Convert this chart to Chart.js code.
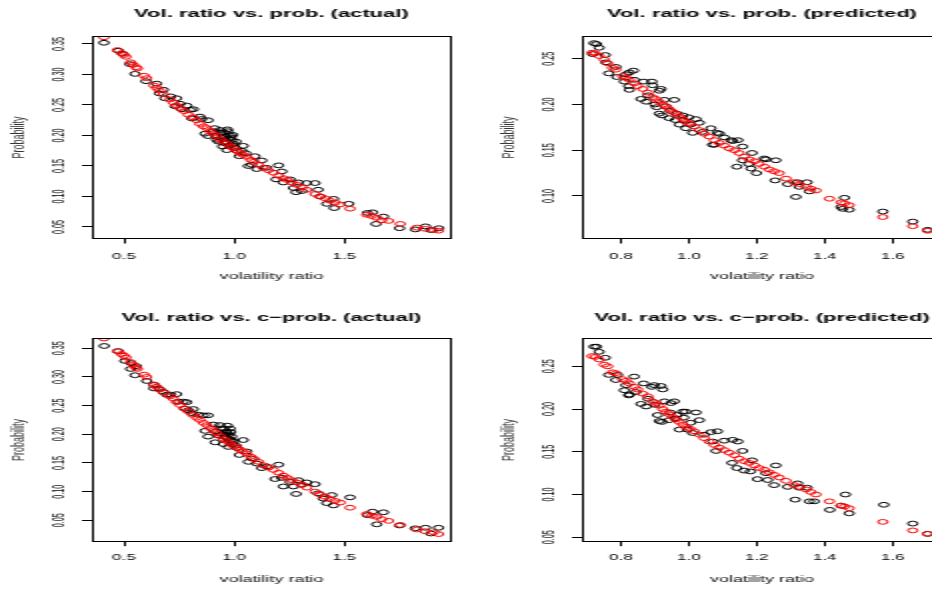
<!DOCTYPE html>
<html>
<head>
<meta charset="utf-8">
<script src="https://cdn.jsdelivr.net/npm/chart.js@4.4.1/dist/chart.umd.min.js"></script>
<style>
  html, body { margin: 0; padding: 0; background: #fff; }
  body { width: 932px; height: 589px; overflow: hidden; position: relative; }
  /* the original figure is stretched horizontally, so each panel is drawn narrow and scaled */
  canvas { position: absolute; transform: scaleX(2); transform-origin: 0 0; }
</style>
</head>
<body>
<canvas id="probActual" width="233" height="295" style="left:0;top:0"></canvas>
<canvas id="probPred" width="250" height="295" style="left:466px;top:0"></canvas>
<canvas id="cprobActual" width="233" height="294" style="left:0;top:295px"></canvas>
<canvas id="cprobPred" width="250" height="294" style="left:466px;top:295px"></canvas>
<script>
// tick labels
var actualXTicks = [0.5, 1.0, 1.5];
var predXTicks = [0.8, 1.0, 1.2, 1.4, 1.6];
var probActualYTicks = [0.05, 0.10, 0.15, 0.20, 0.25, 0.30, 0.35];
var probPredYTicks = [0.10, 0.15, 0.20, 0.25];
var cprobActualYTicks = [0.05, 0.10, 0.15, 0.20, 0.25, 0.30, 0.35];
var cprobPredYTicks = [0.05, 0.10, 0.15, 0.20, 0.25];

// left column: actual volatility ratios
var actualBlackX = [0.409, 0.474, 0.494, 0.527, 0.550, 0.600, 0.648, 0.661, 0.679, 0.686, 0.712, 0.739, 0.732, 0.755, 0.762, 0.785, 0.800, 0.815, 0.808, 0.845, 0.853, 0.882, 0.868, 0.882, 0.912, 0.921, 0.936, 0.944, 0.948, 0.955, 0.967, 0.982, 0.989, 0.997, 1.005, 1.015, 1.024, 1.042, 1.053, 1.065, 1.080, 1.095, 1.103, 1.126, 1.148, 1.202, 1.191, 1.217, 1.224, 1.255, 1.270, 1.282, 1.292, 1.308, 1.330, 1.368, 1.382, 1.391, 1.421, 1.452, 1.455, 1.521, 1.606, 1.629, 1.645, 1.679, 1.752, 1.824, 1.870, 1.894, 1.930, 0.906, 0.918, 0.929, 0.939, 0.959, 0.971, 0.979, 0.994, 1.009, 1.035, 0.955, 0.965, 0.975, 0.985, 0.960, 0.990, 0.945, 0.970];
var probActualBlack = [0.352, 0.339, 0.334, 0.317, 0.301, 0.289, 0.285, 0.269, 0.275, 0.261, 0.264, 0.261, 0.248, 0.252, 0.243, 0.249, 0.242, 0.243, 0.228, 0.231, 0.227, 0.225, 0.203, 0.199, 0.212, 0.193, 0.209, 0.205, 0.182, 0.199, 0.176, 0.200, 0.193, 0.187, 0.180, 0.175, 0.166, 0.183, 0.171, 0.150, 0.152, 0.166, 0.145, 0.159, 0.147, 0.151, 0.128, 0.141, 0.123, 0.128, 0.114, 0.107, 0.123, 0.109, 0.122, 0.122, 0.111, 0.100, 0.088, 0.096, 0.081, 0.088, 0.073, 0.074, 0.055, 0.067, 0.048, 0.046, 0.051, 0.045, 0.048, 0.207, 0.199, 0.190, 0.204, 0.187, 0.207, 0.183, 0.201, 0.190, 0.175, 0.205, 0.198, 0.195, 0.197, 0.190, 0.185, 0.196, 0.210];

var actualRedX = [0.409, 0.470, 0.489, 0.500, 0.509, 0.530, 0.542, 0.555, 0.561, 0.592, 0.603, 0.636, 0.648, 0.661, 0.679, 0.709, 0.724, 0.739, 0.755, 0.773, 0.792, 0.812, 0.830, 0.845, 0.861, 0.876, 0.891, 0.906, 0.921, 0.936, 0.952, 0.967, 0.982, 0.997, 1.012, 1.027, 1.042, 1.058, 1.076, 1.091, 1.111, 1.133, 1.156, 1.179, 1.202, 1.224, 1.242, 1.262, 1.285, 1.308, 1.330, 1.368, 1.391, 1.414, 1.436, 1.459, 1.482, 1.527, 1.603, 1.626, 1.648, 1.671, 1.702, 1.755, 1.830, 1.868, 1.906, 1.929];
var probActualRed = [0.361, 0.340, 0.335, 0.332, 0.329, 0.320, 0.316, 0.312, 0.310, 0.298, 0.294, 0.282, 0.278, 0.274, 0.268, 0.259, 0.254, 0.249, 0.245, 0.240, 0.234, 0.230, 0.225, 0.219, 0.215, 0.212, 0.207, 0.203, 0.199, 0.194, 0.190, 0.187, 0.182, 0.179, 0.175, 0.171, 0.168, 0.165, 0.160, 0.157, 0.152, 0.147, 0.143, 0.139, 0.134, 0.130, 0.127, 0.123, 0.119, 0.115, 0.111, 0.104, 0.100, 0.097, 0.093, 0.090, 0.087, 0.080, 0.070, 0.068, 0.065, 0.061, 0.060, 0.055, 0.049, 0.047, 0.045, 0.044];
var cprobActualRed = [0.367, 0.345, 0.340, 0.337, 0.334, 0.326, 0.321, 0.316, 0.314, 0.304, 0.300, 0.287, 0.283, 0.278, 0.273, 0.266, 0.262, 0.256, 0.251, 0.245, 0.240, 0.234, 0.229, 0.225, 0.220, 0.216, 0.211, 0.207, 0.202, 0.197, 0.192, 0.188, 0.184, 0.180, 0.177, 0.173, 0.170, 0.166, 0.161, 0.157, 0.152, 0.146, 0.142, 0.138, 0.133, 0.128, 0.124, 0.120, 0.116, 0.112, 0.107, 0.100, 0.095, 0.091, 0.087, 0.084, 0.081, 0.072, 0.061, 0.058, 0.056, 0.052, 0.049, 0.042, 0.034, 0.031, 0.029, 0.026];

var cActualBlackX = [0.410, 0.474, 0.504, 0.533, 0.530, 0.550, 0.555, 0.603, 0.636, 0.636, 0.661, 0.679, 0.694, 0.712, 0.739, 0.747, 0.770, 0.785, 0.777, 0.792, 0.808, 0.815, 0.838, 0.861, 0.882, 0.868, 0.882, 0.906, 0.914, 0.936, 0.944, 0.952, 0.967, 0.974, 0.982, 0.989, 0.997, 1.015, 1.024, 1.042, 1.058, 1.065, 1.080, 1.103, 1.126, 1.148, 1.202, 1.186, 1.217, 1.224, 1.255, 1.270, 1.282, 1.292, 1.308, 1.330, 1.368, 1.382, 1.405, 1.421, 1.444, 1.452, 1.527, 1.606, 1.629, 1.648, 1.679, 1.752, 1.823, 1.870, 1.894, 1.929, 0.918, 0.929, 0.959, 0.971, 0.979, 0.994, 1.009, 0.955, 0.965, 0.975, 0.985, 0.960, 0.990, 0.945, 0.970];
var cprobActualBlack = [0.354, 0.345, 0.328, 0.324, 0.314, 0.303, 0.319, 0.293, 0.286, 0.280, 0.279, 0.274, 0.269, 0.269, 0.270, 0.257, 0.257, 0.256, 0.245, 0.242, 0.237, 0.244, 0.234, 0.233, 0.233, 0.206, 0.196, 0.217, 0.186, 0.216, 0.210, 0.183, 0.203, 0.178, 0.210, 0.196, 0.187, 0.176, 0.164, 0.190, 0.170, 0.152, 0.158, 0.149, 0.141, 0.144, 0.147, 0.122, 0.124, 0.109, 0.117, 0.109, 0.096, 0.120, 0.112, 0.116, 0.113, 0.097, 0.088, 0.080, 0.094, 0.076, 0.090, 0.059, 0.065, 0.043, 0.064, 0.041, 0.036, 0.037, 0.027, 0.037, 0.205, 0.198, 0.200, 0.194, 0.190, 0.183, 0.180, 0.210, 0.205, 0.200, 0.204, 0.195, 0.190, 0.200, 0.215];

// right column: predicted volatility ratios
var predBlackX = [0.721, 0.728, 0.736, 0.717, 0.754, 0.756, 0.764, 0.788, 0.785, 0.815, 0.825, 0.837, 0.810, 0.823, 0.825, 0.839, 0.859, 0.867, 0.874, 0.891, 0.893, 0.918, 0.913, 0.905, 0.913, 0.921, 0.928, 0.932, 0.942, 0.957, 0.960, 0.972, 0.982, 0.991, 0.999, 1.011, 1.021, 1.031, 1.065, 1.070, 1.075, 1.084, 1.090, 1.104, 1.124, 1.129, 1.141, 1.144, 1.158, 1.158, 1.176, 1.183, 1.186, 1.199, 1.222, 1.227, 1.254, 1.256, 1.291, 1.320, 1.315, 1.325, 1.348, 1.355, 1.448, 1.453, 1.458, 1.472, 1.571, 1.659, 1.703, 0.945, 0.965, 0.985, 1.005, 1.040, 0.880, 0.900];
var probPredBlack = [0.267, 0.266, 0.262, 0.255, 0.254, 0.246, 0.234, 0.230, 0.241, 0.233, 0.235, 0.237, 0.225, 0.220, 0.216, 0.227, 0.206, 0.225, 0.203, 0.225, 0.221, 0.217, 0.215, 0.197, 0.190, 0.188, 0.205, 0.198, 0.185, 0.205, 0.183, 0.178, 0.188, 0.174, 0.186, 0.169, 0.184, 0.180, 0.174, 0.156, 0.156, 0.169, 0.168, 0.164, 0.161, 0.160, 0.132, 0.161, 0.154, 0.139, 0.135, 0.130, 0.147, 0.125, 0.141, 0.140, 0.117, 0.139, 0.113, 0.115, 0.099, 0.110, 0.115, 0.105, 0.088, 0.086, 0.098, 0.085, 0.083, 0.072, 0.063, 0.193, 0.190, 0.183, 0.178, 0.170, 0.210, 0.200];

var predRedX = [0.715, 0.724, 0.736, 0.751, 0.761, 0.775, 0.785, 0.805, 0.815, 0.825, 0.839, 0.849, 0.864, 0.879, 0.893, 0.903, 0.913, 0.923, 0.932, 0.942, 0.952, 0.962, 0.972, 0.982, 0.991, 1.003, 1.016, 1.031, 1.045, 1.060, 1.075, 1.090, 1.104, 1.119, 1.134, 1.148, 1.163, 1.178, 1.193, 1.207, 1.222, 1.237, 1.251, 1.266, 1.286, 1.310, 1.325, 1.345, 1.359, 1.374, 1.414, 1.448, 1.458, 1.472, 1.571, 1.659, 1.703];
var probPredRed = [0.2566, 0.256, 0.253, 0.249, 0.245, 0.240, 0.238, 0.231, 0.229, 0.227, 0.223, 0.220, 0.217, 0.213, 0.208, 0.206, 0.203, 0.200, 0.198, 0.195, 0.192, 0.190, 0.187, 0.184, 0.181, 0.179, 0.176, 0.172, 0.168, 0.165, 0.161, 0.158, 0.155, 0.152, 0.150, 0.147, 0.143, 0.140, 0.138, 0.135, 0.132, 0.129, 0.127, 0.125, 0.119, 0.115, 0.113, 0.110, 0.108, 0.106, 0.097, 0.093, 0.092, 0.090, 0.077, 0.067, 0.062];
var cprobPredRed = [0.262, 0.261, 0.258, 0.252, 0.250, 0.243, 0.242, 0.235, 0.233, 0.230, 0.226, 0.223, 0.218, 0.215, 0.209, 0.207, 0.204, 0.200, 0.197, 0.194, 0.191, 0.188, 0.185, 0.182, 0.179, 0.177, 0.174, 0.170, 0.166, 0.162, 0.158, 0.155, 0.152, 0.149, 0.146, 0.142, 0.139, 0.137, 0.134, 0.131, 0.129, 0.126, 0.123, 0.120, 0.116, 0.111, 0.109, 0.106, 0.103, 0.100, 0.092, 0.087, 0.086, 0.084, 0.068, 0.058, 0.054];

var cPredBlackX = [0.721, 0.728, 0.736, 0.754, 0.764, 0.790, 0.785, 0.810, 0.815, 0.825, 0.823, 0.839, 0.844, 0.859, 0.867, 0.874, 0.891, 0.898, 0.918, 0.923, 0.908, 0.913, 0.921, 0.928, 0.947, 0.957, 0.942, 0.960, 0.972, 0.982, 0.991, 0.996, 1.011, 1.021, 1.031, 1.065, 1.070, 1.080, 1.084, 1.104, 1.129, 1.127, 1.141, 1.144, 1.158, 1.163, 1.181, 1.186, 1.202, 1.227, 1.232, 1.251, 1.256, 1.291, 1.320, 1.313, 1.325, 1.348, 1.355, 1.369, 1.415, 1.448, 1.461, 1.472, 1.574, 1.659, 1.703, 0.945, 0.965, 0.985, 1.005, 1.045, 0.880, 0.900];
var cprobPredBlack = [0.273, 0.273, 0.267, 0.260, 0.240, 0.240, 0.234, 0.222, 0.228, 0.217, 0.216, 0.238, 0.220, 0.206, 0.230, 0.203, 0.226, 0.228, 0.227, 0.223, 0.193, 0.186, 0.185, 0.209, 0.207, 0.209, 0.187, 0.189, 0.176, 0.197, 0.197, 0.176, 0.172, 0.196, 0.187, 0.173, 0.162, 0.151, 0.174, 0.163, 0.164, 0.137, 0.131, 0.162, 0.151, 0.128, 0.127, 0.140, 0.118, 0.125, 0.117, 0.111, 0.134, 0.109, 0.113, 0.094, 0.108, 0.108, 0.092, 0.092, 0.082, 0.087, 0.100, 0.078, 0.088, 0.066, 0.054, 0.196, 0.193, 0.190, 0.184, 0.170, 0.212, 0.205];

var FONT = '"Liberation Sans", Arial, Helvetica, sans-serif';
Chart.defaults.font.family = FONT;

function pts(xs, ys) {
    return xs.map(function (x, i) { return { x: x, y: ys[i] }; });
}

// R-like box, rotated y tick labels and bold title
var rStyle = {
    id: 'rStyle',
    afterDraw: function (chart, args, opts) {
        var ctx = chart.ctx, a = chart.chartArea, ys = chart.scales.y;
        var l = Math.round(a.left) + 0.5, r = Math.round(a.right) - 0.5;
        var t = Math.round(a.top) + 0.5, b = Math.round(a.bottom) - 0.5;
        ctx.save();
        ctx.strokeStyle = '#000';
        ctx.lineWidth = 1;
        ctx.strokeRect(l, t, r - l, b - t);
        ctx.fillStyle = '#000';
        ctx.font = '9px ' + FONT;
        ctx.textAlign = 'center';
        ctx.textBaseline = 'middle';
        ys.ticks.forEach(function (tk) {
            ctx.save();
            ctx.translate(a.left - 15.75, ys.getPixelForValue(tk.value));
            ctx.rotate(-Math.PI / 2);
            ctx.scale(0.8, 1);
            ctx.fillText(tk.value.toFixed(2), 0, 0);
            ctx.restore();
        });
        ctx.font = 'bold 11px ' + FONT;
        ctx.fillText(opts.text, (a.left + a.right) / 2, opts.y);
        ctx.restore();
    }
};

function panel(id, p) {
    var canvas = document.getElementById(id);
    var W = canvas.width, H = canvas.height;
    new Chart(canvas, {
        type: 'scatter',
        data: {
            datasets: [
                { data: pts(p.redX, p.redY), borderColor: '#ff0000', order: 0 },
                { data: pts(p.blackX, p.blackY), borderColor: '#000000', order: 1 }
            ]
        },
        options: {
            responsive: false,
            animation: false,
            events: [],
            layout: { padding: { top: p.top, right: W - p.right, left: 0, bottom: 0 } },
            elements: { point: { radius: 2.4, borderWidth: 1, backgroundColor: 'rgba(0,0,0,0)' } },
            plugins: {
                legend: { display: false },
                tooltip: { enabled: false },
                rStyle: { text: p.title, y: p.titleY }
            },
            scales: {
                x: {
                    type: 'linear', min: p.xMin, max: p.xMax,
                    afterBuildTicks: function (s) { s.ticks = p.xTicks.map(function (v) { return { value: v }; }); },
                    afterFit: function (s) { s.height = H - p.bottom; },
                    ticks: { padding: p.xPad, color: '#000', font: { size: 8.5 }, maxRotation: 0,
                             callback: function (v) { return v.toFixed(1); } },
                    grid: { drawOnChartArea: false, color: '#000', tickLength: 4.5 },
                    border: { display: false },
                    title: { display: true, text: 'volatility ratio', color: '#111', font: { size: 9 },
                             padding: { top: 0, bottom: p.xTitlePad } }
                },
                y: {
                    type: 'linear', min: p.yMin, max: p.yMax,
                    afterBuildTicks: function (s) { s.ticks = p.yTicks.map(function (v) { return { value: v }; }); },
                    afterFit: function (s) { s.width = p.left; },
                    ticks: { display: false },
                    grid: { drawOnChartArea: false, color: '#000', tickLength: 4.5 },
                    border: { display: false },
                    title: { display: true, text: 'Probability', color: '#333', font: { size: 9 },
                             padding: { top: p.left - 36.25 - 5.4, bottom: 0 } }
                }
            }
        },
        plugins: [rStyle]
    });
}

// Vol. ratio vs. prob. (actual)
panel('probActual', {
    title: 'Vol. ratio vs. prob. (actual)', titleY: 14,
    left: 45.5, right: 226, top: 36, bottom: 239, xPad: 8.4, xTitlePad: 12.9,
    xMin: 0.35, xMax: 1.99, yMin: 0.0303, yMax: 0.3631,
    xTicks: actualXTicks, yTicks: probActualYTicks,
    blackX: actualBlackX, blackY: probActualBlack, redX: actualRedX, redY: probActualRed
});

// Vol. ratio vs. prob. (predicted)
panel('probPred', {
    title: 'Vol. ratio vs. prob. (predicted)', titleY: 14,
    left: 57.5, right: 238.5, top: 36, bottom: 239, xPad: 8.4, xTitlePad: 12.9,
    xMin: 0.6824, xMax: 1.748, yMin: 0.053, yMax: 0.2748,
    xTicks: predXTicks, yTicks: probPredYTicks,
    blackX: predBlackX, blackY: probPredBlack, redX: predRedX, redY: probPredRed
});

// Vol. ratio vs. c-prob. (actual)
panel('cprobActual', {
    title: 'Vol. ratio vs. c\u2212prob. (actual)', titleY: 22.7,
    left: 45.5, right: 226, top: 43.3, bottom: 246.7, xPad: 6.7, xTitlePad: 3.6,
    xMin: 0.35, xMax: 1.99, yMin: 0.0127, yMax: 0.3674,
    xTicks: actualXTicks, yTicks: cprobActualYTicks,
    blackX: cActualBlackX, blackY: cprobActualBlack, redX: actualRedX, redY: cprobActualRed
});

// Vol. ratio vs. c-prob. (predicted)
panel('cprobPred', {
    title: 'Vol. ratio vs. c\u2212prob. (predicted)', titleY: 22.7,
    left: 57.5, right: 238.5, top: 43.3, bottom: 246.7, xPad: 6.7, xTitlePad: 3.6,
    xMin: 0.6824, xMax: 1.748, yMin: 0.0448, yMax: 0.2828,
    xTicks: predXTicks, yTicks: cprobPredYTicks,
    blackX: cPredBlackX, blackY: cprobPredBlack, redX: predRedX, redY: cprobPredRed
});
</script>
</body>
</html>
